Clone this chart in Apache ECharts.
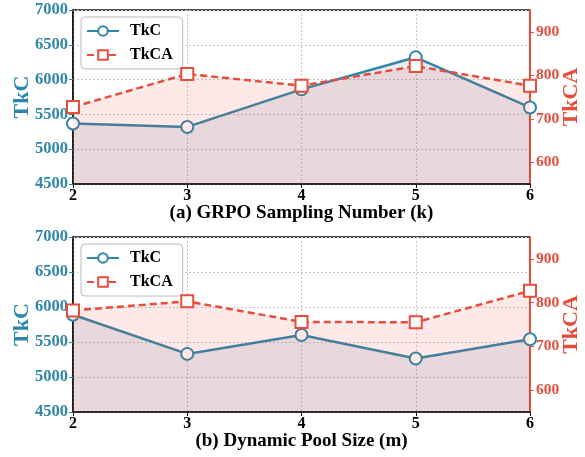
<!DOCTYPE html>
<html>
<head>
<meta charset="utf-8">
<script src="https://cdn.jsdelivr.net/npm/echarts@6/dist/echarts.min.js"></script>
<style>
  html, body { margin: 0; padding: 0; background: #fff; }
  #chart { width: 585px; height: 457px; }
</style>
</head>
<body>
<div id="chart"></div>
<script>
// values
const xValues = [2, 3, 4, 5, 6];
const tkcSampling = [5370, 5320, 5860, 6320, 5600];
const tkcaSampling = [727, 803, 776, 821, 776];
const tkcPool = [5890, 5330, 5600, 5265, 5540];
const tkcaPool = [782, 803, 756, 755, 827];
const rightTicks = [600, 700, 800, 900];
const panelTitles = ['(a) GRPO Sampling Number (k)', '(b) Dynamic Pool Size (m)'];

const BLUE = '#2E86AB';
const RED = '#E74C3C';
const FONT = '"Liberation Serif", "Times New Roman", serif';

const pairs = (ys) => xValues.map((x, i) => [x, ys[i]]);
const plain = (v) => String(v);

const grids = [
    { left: 73, right: 55, top: 10, height: 174 },
    { left: 73, right: 55, top: 237, height: 175 },
].map((g) => Object.assign(g, {
    show: true,
    borderColor: '#111',
    borderWidth: 1.5,
    backgroundColor: 'transparent',
    containLabel: false,
    outerBoundsMode: 'none',
}));

const xAxes = panelTitles.map((title, i) => ({
    type: 'value',
    gridIndex: i,
    min: 2,
    max: 6,
    interval: 1,
    name: title,
    nameLocation: 'middle',
    nameGap: 20,
    nameMoveOverlap: false,
    nameTextStyle: { fontFamily: FONT, fontWeight: 'bold', fontSize: 19, color: '#000' },
    axisLine: { lineStyle: { color: '#111', width: 1.5 } },
    axisTick: { show: true, length: 4, lineStyle: { color: '#111' } },
    axisLabel: { fontFamily: FONT, fontWeight: 'bold', fontSize: 16, color: '#000', margin: 4, formatter: plain },
    splitLine: { show: true, lineStyle: { color: '#c8c8c8', type: [2, 2], width: 1 } },
}));

const yAxes = [];
[0, 1].forEach((i) => {
    yAxes.push({
        type: 'value',
        gridIndex: i,
        position: 'left',
        min: 4500,
        max: 7000,
        interval: 500,
        name: 'TkC',
        nameLocation: 'middle',
        nameRotate: 90,
        nameGap: 40,
        nameMoveOverlap: false,
        nameTextStyle: { fontFamily: FONT, fontWeight: 'bold', fontSize: 22, color: BLUE },
        axisLine: { show: true, lineStyle: { color: '#111', width: 1.5 } },
        axisTick: { show: true, length: 4, lineStyle: { color: BLUE } },
        axisLabel: { fontFamily: FONT, fontWeight: 'bold', fontSize: 16.5, color: BLUE, margin: 5, formatter: plain },
        splitLine: { show: true, lineStyle: { color: '#c8c8c8', type: [2, 2], width: 1 } },
    });
    yAxes.push({
        type: 'value',
        gridIndex: i,
        position: 'right',
        min: 550,
        max: 950,
        name: 'TkCA',
        nameLocation: 'middle',
        nameRotate: 90,
        nameGap: 30,
        nameMoveOverlap: false,
        nameTextStyle: { fontFamily: FONT, fontWeight: 'bold', fontSize: 22, color: RED },
        axisLine: { show: true, lineStyle: { color: RED, width: 2 } },
        axisTick: { show: true, length: 4, customValues: rightTicks, lineStyle: { color: RED } },
        axisLabel: { fontFamily: FONT, fontWeight: 'bold', fontSize: 15.5, color: RED, margin: 6, customValues: rightTicks, formatter: plain },
        splitLine: { show: false },
    });
});

function tkcSeries(data, i) {
    return {
        name: 'TkC',
        type: 'line',
        xAxisIndex: i,
        yAxisIndex: i * 2,
        data: pairs(data),
        symbol: 'circle',
        symbolSize: 12,
        itemStyle: { color: '#fff', borderColor: BLUE, borderWidth: 2 },
        lineStyle: { color: BLUE, width: 2.5 },
        areaStyle: { color: 'rgba(39,79,129,0.15)', origin: 'start' },
        z: 3,
    };
}

function tkcaSeries(data, i) {
    return {
        name: 'TkCA',
        type: 'line',
        xAxisIndex: i,
        yAxisIndex: i * 2 + 1,
        data: pairs(data),
        symbol: 'rect',
        symbolSize: 12,
        itemStyle: { color: '#fff', borderColor: RED, borderWidth: 2 },
        lineStyle: { color: RED, width: 2.5, type: [7, 4] },
        areaStyle: { color: 'rgba(236,80,62,0.18)', origin: 'start' },
        z: 4,
    };
}

const legends = [17, 244].map((top) => ({
    orient: 'vertical',
    left: 81,
    top: top,
    itemWidth: 32,
    itemHeight: 12,
    itemGap: 8,
    padding: [6, 10, 6, 5],
    backgroundColor: 'rgba(255,255,255,0.85)',
    borderColor: '#bbb',
    borderWidth: 1,
    borderRadius: 4,
    textStyle: { fontFamily: FONT, fontWeight: 'bold', fontSize: 16, color: '#000', padding: [0, 0, 0, 6] },
    data: ['TkC', 'TkCA'],
}));

const chart = echarts.init(document.getElementById('chart'), null, { renderer: 'canvas' });
chart.setOption({
    animation: false,
    backgroundColor: '#fff',
    grid: grids,
    xAxis: xAxes,
    yAxis: yAxes,
    legend: legends,
    series: [
        tkcSeries(tkcSampling, 0),
        tkcaSeries(tkcaSampling, 0),
        tkcSeries(tkcPool, 1),
        tkcaSeries(tkcaPool, 1),
    ],
});
</script>
</body>
</html>
